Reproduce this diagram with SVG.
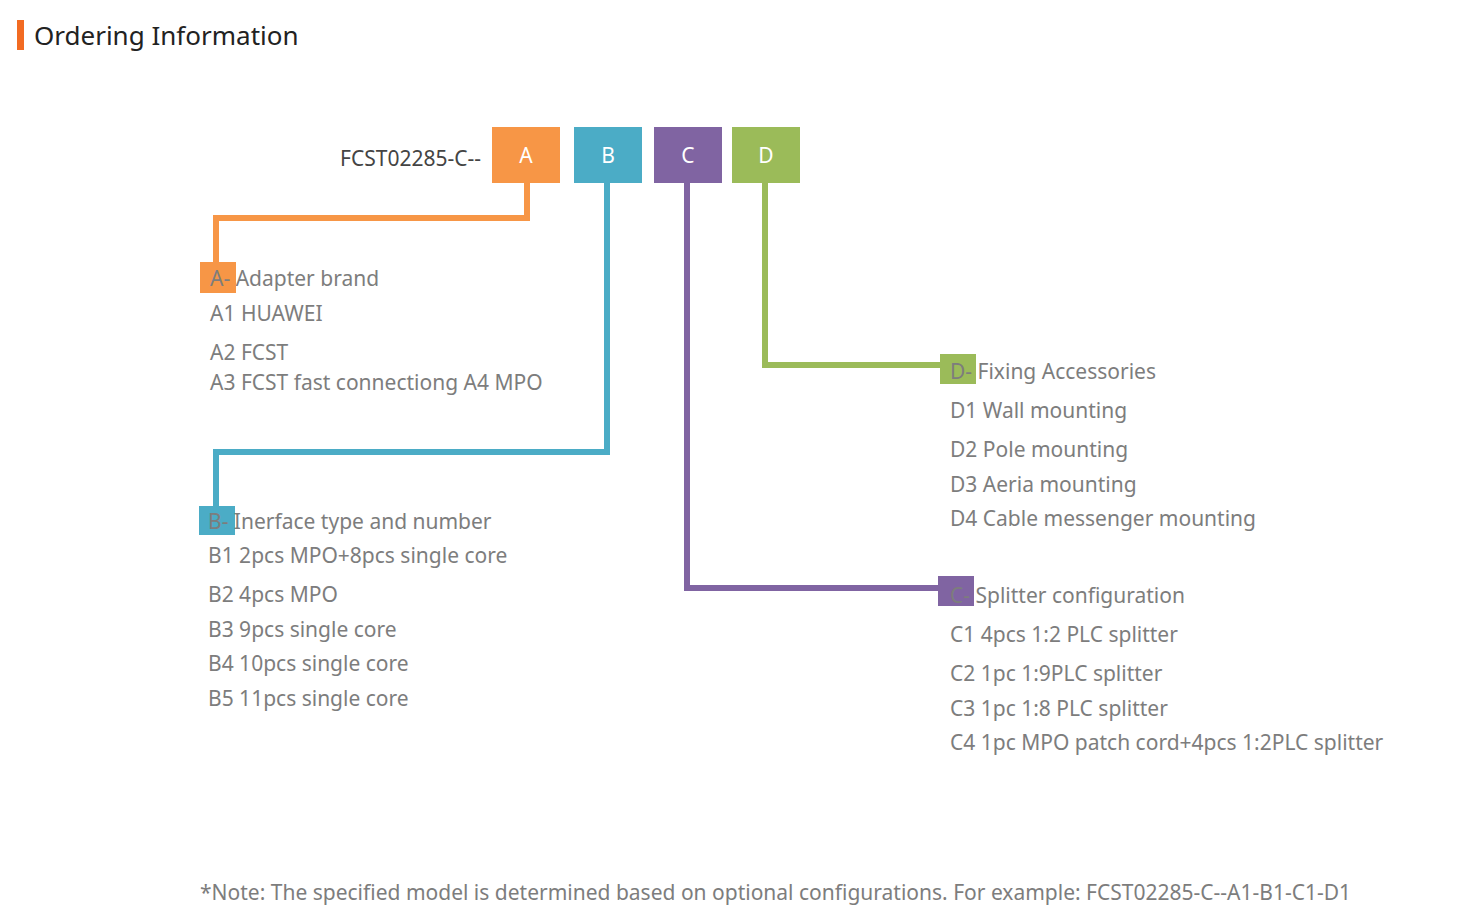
<svg xmlns="http://www.w3.org/2000/svg" width="1481" height="921" viewBox="0 0 1481 921">
<style>
text{font-family:"Noto Sans","Open Sans",sans-serif;}
.t{font-size:21px;fill:#7d7d7d;}
.k{font-size:21px;fill:#fff;text-anchor:middle;}
.c{fill:none;stroke-width:6;}
</style>
<rect width="1481" height="921" fill="#fff"/>
<rect x="17" y="20" width="7" height="30" fill="#f26b22"/>
<text x="34" y="45" style="font-size:26px;fill:#222">Ordering Information</text>
<text x="481" y="166" style="font-size:21px;fill:#444;text-anchor:end">FCST02285-C--</text>
<g id="connectors">
<polyline class="c" stroke="#f79646" points="527,183 527,218 216,218 216,264"/>
<polyline class="c" stroke="#4bacc6" points="607,183 607,452 216,452 216,508"/>
<polyline class="c" stroke="#8064a2" points="687,183 687,588 940,588"/>
<polyline class="c" stroke="#9bbb59" points="765,183 765,365 942,365"/>
</g>
<g id="nodeA"><rect x="492" y="127" width="68" height="56" fill="#f79646"/><text class="k" x="526" y="163">A</text></g>
<g id="nodeB"><rect x="574" y="127" width="68" height="56" fill="#4bacc6"/><text class="k" x="608" y="163">B</text></g>
<g id="nodeC"><rect x="654" y="127" width="68" height="56" fill="#8064a2"/><text class="k" x="688" y="163">C</text></g>
<g id="nodeD"><rect x="732" y="127" width="68" height="56" fill="#9bbb59"/><text class="k" x="766" y="163">D</text></g>
<g id="groupA">
<rect x="200" y="262" width="36" height="31" fill="#f79646"/>
<text class="t" x="210" y="286">A- Adapter brand</text>
<text class="t" x="210" y="321">A1 HUAWEI</text>
<text class="t" x="210" y="360">A2 FCST</text>
<text class="t" x="210" y="390">A3 FCST fast connectiong A4 MPO</text>
</g>
<g id="groupB">
<rect x="199" y="506" width="36" height="29" fill="#4bacc6"/>
<text class="t" x="208" y="529">B- Inerface type and number</text>
<text class="t" x="208" y="563">B1  2pcs MPO+8pcs single core</text>
<text class="t" x="208" y="602">B2  4pcs MPO</text>
<text class="t" x="208" y="637">B3  9pcs single core</text>
<text class="t" x="208" y="671">B4  10pcs single core</text>
<text class="t" x="208" y="706">B5  11pcs single core</text>
</g>
<g id="groupD">
<rect x="940" y="354" width="36" height="30" fill="#9bbb59"/>
<text class="t" x="950" y="379">D-  Fixing Accessories</text>
<text class="t" x="950" y="418">D1  Wall mounting</text>
<text class="t" x="950" y="457">D2  Pole mounting</text>
<text class="t" x="950" y="492">D3  Aeria mounting</text>
<text class="t" x="950" y="526">D4  Cable messenger mounting</text>
</g>
<g id="groupC">
<rect x="938" y="576" width="36" height="30" fill="#8064a2"/>
<text class="t" x="950" y="603">C-  Splitter configuration</text>
<text class="t" x="950" y="642">C1  4pcs 1:2 PLC splitter</text>
<text class="t" x="950" y="681">C2  1pc 1:9PLC splitter</text>
<text class="t" x="950" y="716">C3  1pc 1:8 PLC splitter</text>
<text class="t" x="950" y="750">C4  1pc MPO patch cord+4pcs 1:2PLC splitter</text>
</g>
<text class="t" x="200" y="900">*Note: The specified model is determined based on optional configurations. For example: FCST02285-C--A1-B1-C1-D1</text>
</svg>
